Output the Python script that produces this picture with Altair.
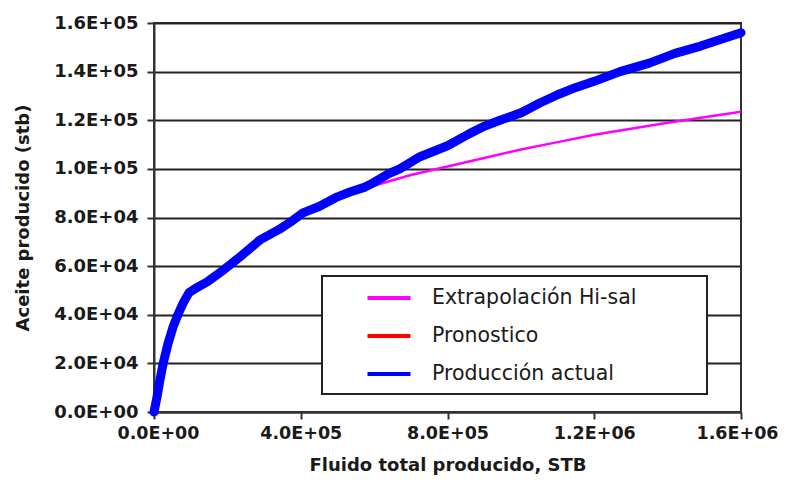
import altair as alt
import pandas as pd

# Producción actual (blue)
act_x = [0, 8000, 16000, 25000, 38000, 52000, 65000, 80000, 95000, 115000, 145000,
         190000, 240000, 289000, 340000, 380000, 406000, 450000, 500000, 534000,
         575000, 597000, 640000, 670000, 725000, 800000, 860000, 900000, 943000,
         1000000, 1050000, 1100000, 1150000, 1200000, 1270000, 1350000, 1420000,
         1490000, 1550000, 1600000]
act_y = [0, 6000, 13000, 20000, 28000, 35000, 40000, 45000, 49000, 51000, 53500,
         58500, 64500, 70800, 75000, 79000, 81900, 84500, 88500, 90500,
         92500, 94200, 98000, 100000, 105000, 109500, 114500, 117500, 120000,
         123000, 127000, 130500, 133500, 136000, 140000, 143500, 147500,
         150500, 153500, 156000]

# Pronostico (red)
pro_x = [600000, 700000, 800000, 850000, 900000, 1000000, 1100000, 1200000, 1300000,
         1400000, 1500000, 1600000]
pro_y = [94500, 102000, 110500, 114500, 118000, 124500, 130800, 136500, 142000,
         147000, 152000, 157000]

# Extrapolación Hi-sal (magenta)
ext_x = [580000, 620000, 700000, 800000, 900000, 1000000, 1100000, 1200000,
         1300000, 1400000, 1500000, 1600000]
ext_y = [92000, 94000, 97500, 101000, 104500, 108000, 111000, 114000,
         116500, 119000, 121200, 123500]

series = ["Extrapolación Hi-sal", "Pronostico", "Producción actual"]
colors = ["#FF00FF", "#FF0000", "#0000FF"]

x_ticks = [0, 400000, 800000, 1200000, 1600000]
y_ticks = [0, 20000, 40000, 60000, 80000, 100000, 120000, 140000, 160000]

df_act = pd.DataFrame({"x": act_x, "y": act_y, "serie": series[2]})
df_pro = pd.DataFrame({"x": pro_x, "y": pro_y, "serie": series[1]})
df_ext = pd.DataFrame({"x": ext_x, "y": ext_y, "serie": series[0]})

sci = "replace(upper(format(datum.value, '.1e')), regexp('E([+-])(\\\\d)$'), 'E$10$2')"

x_enc = alt.X("x:Q", scale=alt.Scale(domain=[0, 1600000], nice=False),
              axis=alt.Axis(values=x_ticks, labelExpr=sci, grid=False,
                            labelFlush=True, labelFlushOffset=37,
                            title="Fluido total producido, STB", labelFontSize=17.5,
                            tickSize=7, labelPadding=5, titlePadding=15))
y_enc = alt.Y("y:Q", scale=alt.Scale(domain=[0, 160000], nice=False),
              axis=alt.Axis(values=y_ticks, labelExpr=sci, grid=True,
                            title="Aceite producido (stb)",
                            tickSize=7, labelPadding=9, titlePadding=21))
color_enc = alt.Color("serie:N",
                      scale=alt.Scale(domain=series, range=colors),
                      legend=alt.Legend(title="\u00a0", titleOrient="right", titlePadding=62,
                                        orient="none",
                                        legendX=168, legendY=253,
                                        symbolType="M-2,0H2", symbolSize=462,
                                        symbolStrokeWidth=4, labelFontSize=20.5,
                                        labelOffset=30, rowPadding=14,
                                        labelLimit=500, padding=9,
                                        symbolOffset=45))

ext = alt.Chart(df_ext).mark_line(strokeWidth=2.5).encode(x=x_enc, y=y_enc, color=color_enc, order="x:Q")
pro = alt.Chart(df_pro).mark_line(strokeWidth=3).encode(x=x_enc, y=y_enc, color=color_enc, order="x:Q")
act = alt.Chart(df_act).mark_line(strokeWidth=9, strokeCap="round", strokeJoin="round").encode(
    x=x_enc, y=y_enc, color=color_enc, order="x:Q")

chart = alt.layer(ext, pro, act).properties(
    width=587, height=389,
    autosize=alt.AutoSizeParams(type="none"),
    padding={"left": 146, "top": 15, "right": 37, "bottom": 64},
).configure_view(
    stroke="#333333", strokeWidth=2
).configure_axis(
    labelFont="DejaVu Sans", labelFontSize=18, labelFontWeight="bold", labelColor="#1a1a1a",
    titleFont="DejaVu Sans", titleFontSize=18, titleFontWeight="bold", titleColor="#1a1a1a",
    domainColor="#333333", domainWidth=2, tickColor="#333333", tickWidth=2,
    gridColor="#222222", gridWidth=2, gridOpacity=1
).configure_legend(
    labelFont="DejaVu Sans", labelColor="#1a1a1a", titleFont="DejaVu Sans",
    fillColor="white", strokeColor="#222222", strokeWidth=2
)

chart.save("out.html", embed_options={"renderer": "svg", "actions": False})
